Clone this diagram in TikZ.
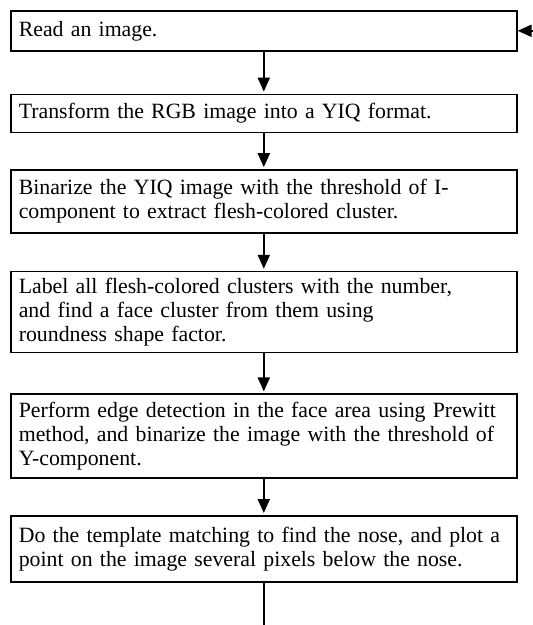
\documentclass[tikz,border=0pt]{standalone}
\usepackage{fontspec}
\setmainfont{Liberation Serif}
\usetikzlibrary{positioning, arrows.meta}

\begin{document}
\begin{tikzpicture}[
 node distance=19pt,
 stage/.style={draw, rectangle, line width=0.8pt, text width=245pt, inner xsep=4pt, inner ysep=0pt, align=left, font=\fontsize{10.9}{12}\selectfont},
 arrow/.style={-{Triangle[length=7pt, width=6pt]}, line width=1pt, shorten >=1pt},
 simplearrow/.style={-, line width=1pt}
 ]

  % Page frame
  \useasboundingbox (0,0) rectangle (266.5pt,-312.5pt);

  % Processing stages
  \node[stage, minimum height=20pt, anchor=north west] at (5pt,-5pt) (read) {Read an image.};
  \node[stage, minimum height=19pt, below=21pt of read] (yiq) {Transform the RGB image into a YIQ format.};
  \node[stage, minimum height=31.5pt, below=18pt of yiq] (binarize) {Binarize the YIQ image with the threshold of I-\\component to extract flesh-colored cluster.};
  \node[stage, minimum height=40.5pt, below=18.5pt of binarize] (label) {Label all flesh-colored clusters with the number,\\and find a face cluster from them using\\roundness shape factor.};
  \node[stage, minimum height=42pt, below=20pt of label] (edge) {Perform edge detection in the face area using Prewitt\\method, and binarize the image with the threshold of\\Y-component.};
  \node[stage, minimum height=33pt, below=18pt of edge] (match) {Do the template matching to find the nose, and plot a\\point on the image several pixels below the nose.};

  % Loop ends
  \coordinate[right=8.5pt of read.east] (back);
  \coordinate[below=24pt of match.south] (next);

  % Forward arrows
  \draw[arrow] (read) -- (yiq);
  \draw[arrow] (yiq) -- (binarize);
  \draw[arrow] (binarize) -- (label);
  \draw[arrow] (label) -- (edge);
  \draw[arrow] (edge) -- (match);

  \draw[arrow, shorten >=0pt] (back) -- (read.east);
  \draw[simplearrow] (match.south) -- (next);

\end{tikzpicture}
\end{document}
